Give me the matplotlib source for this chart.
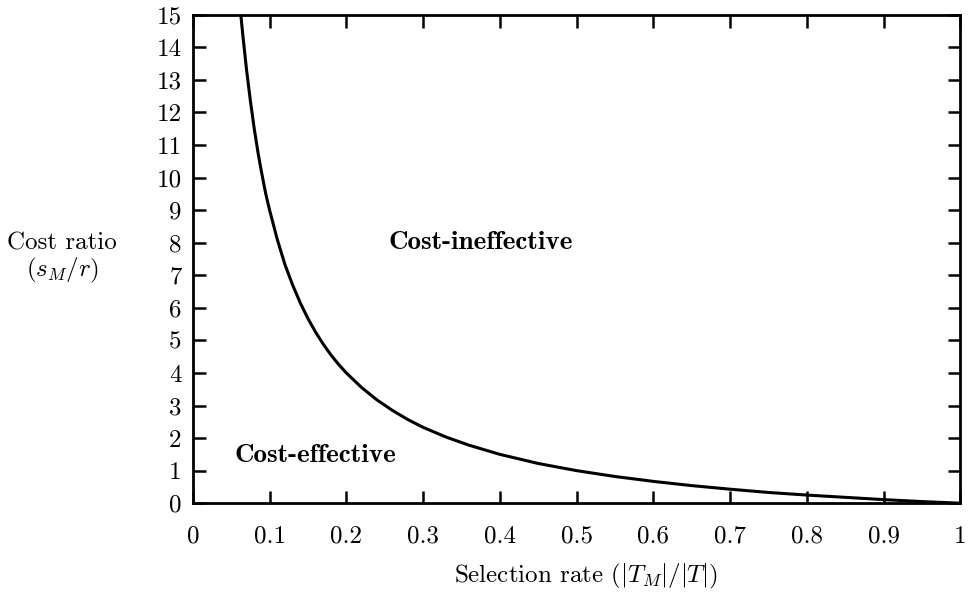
import matplotlib
matplotlib.use('Agg')
import matplotlib.pyplot as plt

# values
rate = [0.0625, 0.065, 0.07, 0.075, 0.08, 0.085, 0.09, 0.095, 0.1, 0.11, 0.12,
        0.13, 0.14, 0.15, 0.16, 0.17, 0.18, 0.19, 0.2, 0.22, 0.24, 0.26, 0.28,
        0.3, 0.33, 0.36, 0.4, 0.45, 0.5, 0.55, 0.6, 0.65, 0.7, 0.75, 0.8,
        0.85, 0.9, 0.95, 1.0]
cost = [15.0, 14.4, 13.3, 12.35, 11.5, 10.75, 10.1, 9.5, 9.0, 8.1, 7.33,
        6.7, 6.15, 5.67, 5.25, 4.88, 4.55, 4.26, 4.0, 3.55, 3.17, 2.85, 2.57,
        2.33, 2.03, 1.78, 1.5, 1.22, 1.0, 0.82, 0.67, 0.54, 0.43, 0.33, 0.25,
        0.18, 0.11, 0.05, 0.0]

xticks = [0, 0.1, 0.2, 0.3, 0.4, 0.5, 0.6, 0.7, 0.8, 0.9, 1]
xtick_labels = ['0', '0.1', '0.2', '0.3', '0.4', '0.5', '0.6', '0.7', '0.8', '0.9', '1']
yticks = list(range(0, 16))

plt.rcParams['font.family'] = 'serif'
plt.rcParams['font.serif'] = ['cmr10']
plt.rcParams['mathtext.fontset'] = 'cm'
plt.rcParams['axes.unicode_minus'] = False

fig = plt.figure(figsize=(9.74, 5.92), dpi=100)
ax = fig.add_axes([0.198, 0.150, 0.788, 0.825])

ax.plot(rate, cost, color='black', lw=2.2)

ax.set_xlim(0, 1)
ax.set_ylim(0, 15)
ax.set_xticks(xticks)
ax.set_xticklabels(xtick_labels)
ax.set_yticks(yticks)
ax.tick_params(direction='in', length=9, width=1.8, top=True, right=True,
               labelsize=18)
ax.tick_params(axis='y', pad=8)
ax.tick_params(axis='x', pad=16)
for s in ax.spines.values():
    s.set_linewidth(2.0)

ax.text(0.375, 8.0, 'Cost-ineffective', fontfamily='cmb10', fontsize=19.5,
        ha='center', va='center')
ax.text(0.159, 1.48, 'Cost-effective', fontfamily='cmb10', fontsize=19.5,
        ha='center', va='center')

fig.text(0.064, 0.563, 'Cost ratio\n$(s_M/r)$', fontsize=18, ha='center',
         va='center', linespacing=1.05)
fig.text(0.601, 0.026, r'Selection rate $(|T_M|/|T|)$', fontsize=18,
         ha='center', va='center')

fig.savefig('out.png', dpi=100)
